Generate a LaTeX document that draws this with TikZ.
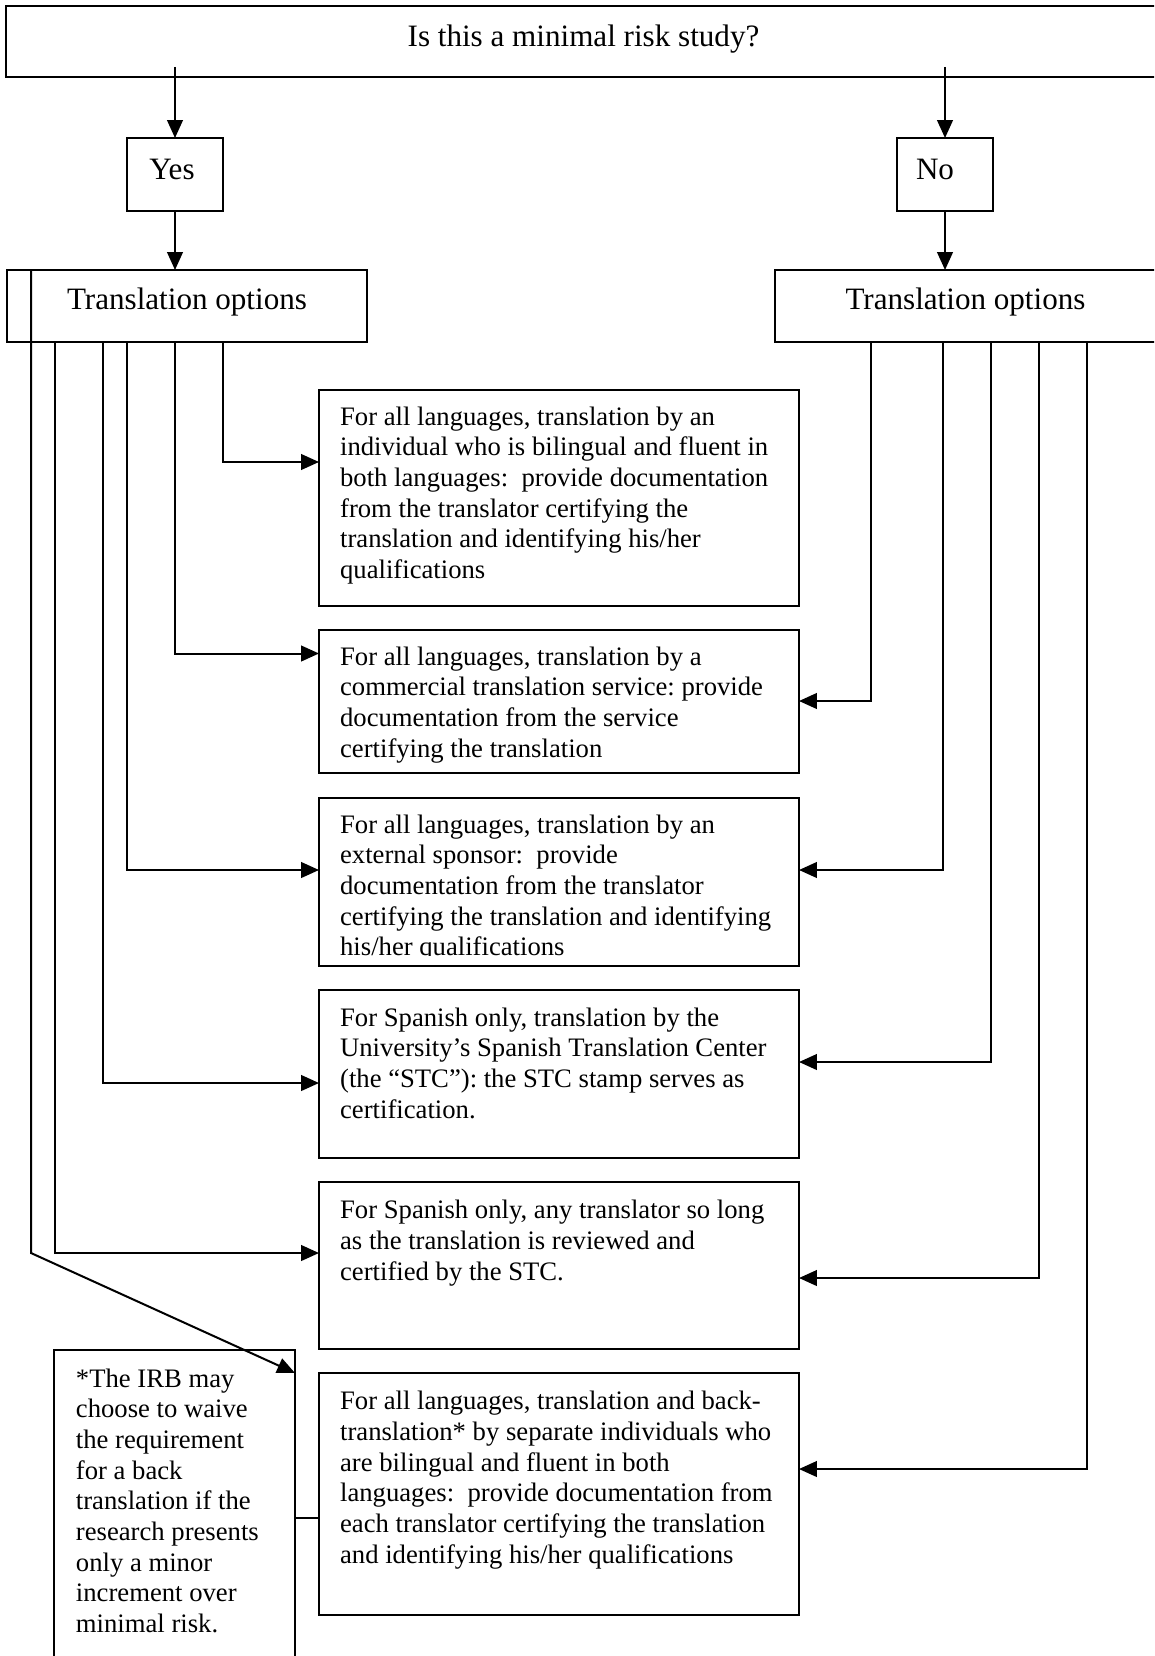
\documentclass[tikz,border=0pt]{standalone}
\usepackage{fontspec}
\setmainfont{Liberation Serif}
\usetikzlibrary{arrows.meta,calc}
\frenchspacing

% box from (x1,y1) to (x2,y2), in pixel-like units of the picture
\newcommand\mkbox[5]{%
  \node[boxshape, minimum width={(#4-#2)*0.45pt}, minimum height={(#5-#3)*0.45pt}]
    (#1) at ({(#2+#4)/2},{(#3+#5)/2}) {};}
% fixed height for the first line of every text block
\newcommand\hdstrut{\rule{0pt}{10pt}}
\newcommand\twosp{\space\space}

\tikzset{
  boxshape/.style={draw, rectangle, line width=0.9pt, inner sep=0pt, outer sep=0pt},
  head/.style={font=\fontsize{14pt}{16pt}\selectfont, inner sep=0pt, anchor=base},
  body/.style={font=\fontsize{12pt}{13.8pt}\selectfont, align=left, inner sep=0pt, anchor=north west},
  arr/.style={line width=0.9pt, -{Triangle[length=8pt,width=7pt]}},
  link/.style={line width=0.9pt}
}

\begin{document}
\begin{tikzpicture}[x=0.45pt, y=-0.45pt]
\useasboundingbox (0,0) rectangle (1154,1656);
\clip (0,0) rectangle (1154,1656);

% question and answers
\mkbox{q}{6}{6}{1160}{77}
\node[head] (qt) at (583.5,46.5) {Is this a minimal risk study?};
\mkbox{yes}{127}{138}{223}{211}
\node[head] (yest) at (172,179) {Yes};
\mkbox{no}{897}{138}{993}{211}
\node[head] (not) at (935,179) {No};

\mkbox{tol}{7}{270}{367}{342}
\node[head] (tolt) at (187,309.5) {Translation options};
\mkbox{tor}{775}{270}{1160}{342}
\node[head] (tort) at (965.5,309.5) {Translation options};

% option boxes
\mkbox{b1}{319}{390}{799}{606}
\mkbox{b2}{319}{630}{799}{773}
\mkbox{b3}{319}{798}{799}{966}
\mkbox{b4}{319}{990}{799}{1158}
\mkbox{b5}{319}{1182}{799}{1349}
\mkbox{b6}{319}{1373}{799}{1615}
\mkbox{fn}{54}{1350}{295}{1680}

\node[body] (t1) at (339.7,402.5) {\hdstrut For all languages, translation by an\\
individual who is bilingual and fluent in\\
both languages:\twosp provide documentation\\
from the translator certifying the\\
translation and identifying his/her\\
qualifications};

\node[body] (t2) at (339.7,642.5) {\hdstrut For all languages, translation by a\\
commercial translation service: provide\\
documentation from the service\\
certifying the translation};

\begin{scope}
\clip (319,798) rectangle (799,955.5);
\node[body] (t3) at (339.7,810.5) {\hdstrut For all languages, translation by an\\
external sponsor:\twosp provide\\
documentation from the translator\\
certifying the translation and identifying\\
his/her qualifications};
\end{scope}

\node[body] (t4) at (339.7,1003.5) {\hdstrut For Spanish only, translation by the\\
University’s Spanish Translation Center\\
(the “STC”): the STC stamp serves as\\
certification.};

\node[body] (t5) at (339.7,1196) {\hdstrut For Spanish only, any translator so long\\
as the translation is reviewed and\\
certified by the STC.};

\node[body] (t6) at (339.7,1387) {\hdstrut For all languages, translation and back-\\
translation* by separate individuals who\\
are bilingual and fluent in both\\
languages:\twosp provide documentation from\\
each translator certifying the translation\\
and identifying his/her qualifications};

\node[body] (fnt) at (75.5,1364.5) {\hdstrut *The IRB may\\
choose to waive\\
the requirement\\
for a back\\
translation if the\\
research presents\\
only a minor\\
increment over\\
minimal risk.};

% question to answers
\coordinate (qa) at (175,67);
\coordinate (qb) at (945,67);
\draw[arr] (qa) -- (yes);
\draw[arr] (qb) -- (no);
\draw[arr] (yes) -- (yes |- tol.north);
\draw[arr] (no) -- (no |- tor.north);

% minimal risk: options
\draw[arr] ($(tol.south west)+(216,0)$) |- ($(b1.north west)+(0,72)$);
\draw[arr] ($(tol.south west)+(168,0)$) |- ($(b2.north west)+(0,23.5)$);
\draw[arr] ($(tol.south west)+(120,0)$) |- ($(b3.north west)+(0,72)$);
\draw[arr] ($(tol.south west)+(96,0)$) |- ($(b4.north west)+(0,93)$);
\draw[arr] ($(tol.south west)+(48,0)$) |- ($(b5.north west)+(0,71)$);
\draw[arr] ($(tol.north west)+(24,0)$) -- ($(tol.north west)+(24,983)$) -- ($(fn.north east)+(0,23)$);

% greater than minimal risk: options
\draw[arr] ($(tor.south west)+(96,0)$) |- ($(b2.north east)+(0,71)$);
\draw[arr] ($(tor.south west)+(168,0)$) |- ($(b3.north east)+(0,72)$);
\draw[arr] ($(tor.south west)+(216,0)$) |- ($(b4.north east)+(0,72)$);
\draw[arr] ($(tor.south west)+(264,0)$) |- ($(b5.north east)+(0,96)$);
\draw[arr] ($(tor.south west)+(312,0)$) |- ($(b6.north east)+(0,96)$);

% footnote link
\draw[link] ($(fn.north east)+(0,168)$) -- ($(b6.north west)+(0,145)$);
\end{tikzpicture}
\end{document}
